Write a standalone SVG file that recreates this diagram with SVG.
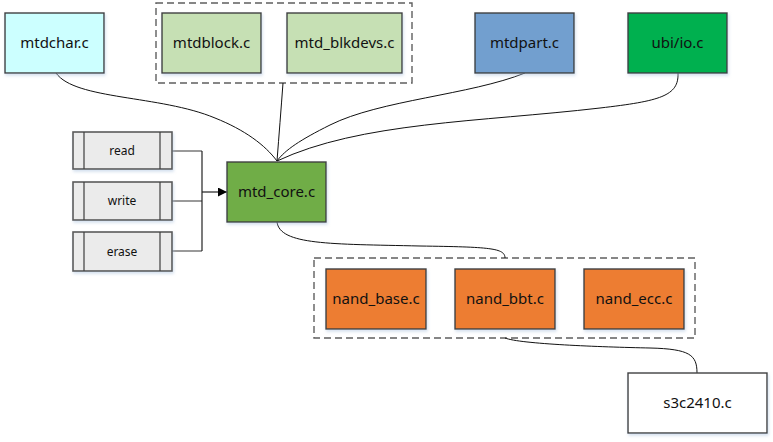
<svg xmlns="http://www.w3.org/2000/svg" width="773" height="442" viewBox="0 0 773 442">
  <style>
    .box { stroke: #3f3f3f; stroke-width: 1.4; filter: url(#glow); }
    .op { fill: #ebebeb; stroke: #5a5a5a; stroke-width: 1.6; filter: url(#glow); }
    .opbar { stroke: #3f3f3f; stroke-width: 1.2; }
    .grp { fill: none; stroke: #5f5f5f; stroke-width: 1.4; stroke-dasharray: 7 4; }
    .lbl { font-family: "Noto Sans", "Open Sans", sans-serif; font-size: 15px; fill: #111; text-anchor: middle; }
    .sm { font-size: 12px; }
    .wire { fill: none; stroke: #111; stroke-width: 1; }
    .bus { fill: none; stroke: #222; stroke-width: 1.2; }
    .feed { fill: none; stroke: #7a7a7a; stroke-width: 1.6; }
  </style>
  <defs>
    <filter id="glow" x="-10%" y="-10%" width="125%" height="130%">
      <feDropShadow dx="1" dy="2" stdDeviation="1.5" flood-color="#a9c1de" flood-opacity="0.5"/>
    </filter>
    <marker id="tri" viewBox="0 0 10 10" refX="10" refY="5" markerWidth="9" markerHeight="9" markerUnits="userSpaceOnUse" orient="auto">
      <path d="M0,0 L10,5 L0,10 z" fill="#000"/>
    </marker>
  </defs>

  <rect width="773" height="442" fill="#fff"/>

  <!-- group frames -->
  <rect class="grp" x="156" y="3" width="256" height="80"/>
  <rect class="grp" x="314" y="258" width="381" height="80"/>

  <!-- connectors -->
  <g id="connectors">
    <path class="wire" d="M56,73 C75,100 160,95 215,118 C245,130 265,145 277,161"/>
    <path class="wire" d="M283,83 C281,110 279,135 277,161"/>
    <path class="wire" d="M525,73 C470,95 380,100 330,125 C300,140 285,150 277,161"/>
    <path class="wire" d="M678,73 C679,96 660,101 600,108 C480,122 360,122 277,161"/>
    <path class="wire" d="M277,222 C280,245 330,244 420,246 C490,247 505,248 505,258"/>
    <path class="wire" d="M505,338 C520,344 600,347 650,348 C690,349 697,355 697,373"/>
    <path class="feed" d="M172,151 H202 M172,201 H202 M172,251 H202"/>
    <path class="bus" d="M202,151 V251"/>
    <path class="bus" d="M202,192 H227" marker-end="url(#tri)"/>
  </g>

  <g id="mtdchar">
    <rect class="box" x="5" y="13" width="99" height="60" fill="#ccffff"/>
    <text class="lbl" x="54.5" y="48">mtdchar.c</text>
  </g>
  <g id="mtdblock">
    <rect class="box" x="162" y="13" width="99" height="60" fill="#c6e0b4"/>
    <text class="lbl" x="211.5" y="48">mtdblock.c</text>
  </g>
  <g id="mtd_blkdevs">
    <rect class="box" x="287" y="13" width="115" height="60" fill="#c6e0b4"/>
    <text class="lbl" x="344.5" y="48">mtd_blkdevs.c</text>
  </g>
  <g id="mtdpart">
    <rect class="box" x="475" y="13" width="99" height="60" fill="#729fcf"/>
    <text class="lbl" x="524.5" y="48">mtdpart.c</text>
  </g>
  <g id="ubi_io">
    <rect class="box" x="628" y="13" width="99" height="60" fill="#00b050"/>
    <text class="lbl" x="677.5" y="48">ubi/io.c</text>
  </g>

  <g id="read">
    <rect class="op" x="73" y="132" width="99" height="37"/>
    <path class="opbar" d="M84,132 V169 M160,132 V169"/>
    <text class="lbl sm" x="122" y="155">read</text>
  </g>
  <g id="write">
    <rect class="op" x="73" y="182" width="99" height="38"/>
    <path class="opbar" d="M84,182 V220 M160,182 V220"/>
    <text class="lbl sm" x="122" y="205">write</text>
  </g>
  <g id="erase">
    <rect class="op" x="73" y="232" width="99" height="39"/>
    <path class="opbar" d="M84,232 V271 M160,232 V271"/>
    <text class="lbl sm" x="122" y="256">erase</text>
  </g>

  <g id="mtd_core">
    <rect class="box" x="227" y="162" width="99" height="60" fill="#70ad47"/>
    <text class="lbl" x="276.5" y="197">mtd_core.c</text>
  </g>

  <g id="nand_base">
    <rect class="box" x="326" y="269" width="100" height="60" fill="#ed7d31"/>
    <text class="lbl" x="376" y="304">nand_base.c</text>
  </g>
  <g id="nand_bbt">
    <rect class="box" x="455" y="269" width="100" height="60" fill="#ed7d31"/>
    <text class="lbl" x="505" y="304">nand_bbt.c</text>
  </g>
  <g id="nand_ecc">
    <rect class="box" x="584" y="269" width="100" height="60" fill="#ed7d31"/>
    <text class="lbl" x="634" y="304">nand_ecc.c</text>
  </g>

  <g id="s3c2410">
    <rect class="box" x="628" y="373" width="139" height="60" fill="#ffffff"/>
    <text class="lbl" x="697.5" y="408">s3c2410.c</text>
  </g>
</svg>
